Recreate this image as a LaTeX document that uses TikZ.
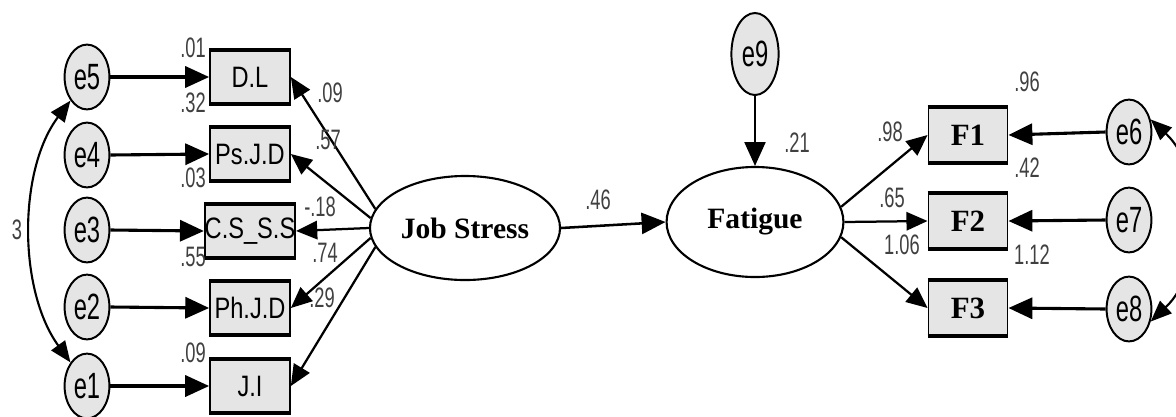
\documentclass[tikz,border=0pt]{standalone}
\usepackage{fontspec}
\setmainfont{Liberation Serif}
\newfontfamily\amosnum[FakeStretch=0.65]{Liberation Sans}
\newfontfamily\amosbox[FakeStretch=0.8]{Liberation Sans}
\usetikzlibrary{shapes.geometric,arrows.meta,positioning}

\begin{document}
\begin{tikzpicture}[
    x=0.025cm, y=-0.025cm,
    err/.style={draw=black, ellipse, line width=1.4pt, fill=black!10, inner sep=0pt, minimum width=1.12cm, minimum height=1.62cm, font=\fontsize{26}{26}\amosnum},
    obs/.style={draw=black, line width=1.2pt, fill=black!10, inner sep=0pt, minimum width=2cm, minimum height=1.3cm, font=\fontsize{21}{21}\amosbox,
        append after command={(\tikzlastnode.north west) edge[line width=2.8pt, -] (\tikzlastnode.north east)
                              (\tikzlastnode.south west) edge[line width=2.8pt, -] (\tikzlastnode.south east)}},
    lat/.style={draw=black, ellipse, line width=1.5pt, fill=white, inner sep=0pt, font=\fontsize{21}{21}\selectfont\bfseries},
    num/.style={font=\fontsize{20}{20}\amosnum, text=black!75, inner sep=0pt},
    arr/.style={-{Triangle[length=17pt, width=15pt]}, line width=2.2pt},
    lnk/.style={-{Triangle[length=15pt, width=13pt]}, line width=1.6pt},
    cov/.style={{Triangle[length=15pt, width=12pt]}-{Triangle[length=15pt, width=12pt]}, line width=1.5pt},
]
\useasboundingbox (0,0) rectangle (1176,416);

% Error terms left
\node[err] (e5) at (87,77) {e5};
\node[err] (e4) at (87,155) {e4};
\node[err] (e3) at (87,230) {e3};
\node[err] (e2) at (87,307) {e2};
\node[err] (e1) at (87,386) {e1};

% Job stress indicators
\node[obs] (dl) at (250,77) {D.L};
\node[obs] (psjd) at (250,154) {Ps.J.D};
\node[obs] (cs) at (250,231) {C.S\_S.S};
\node[obs] (phjd) at (250,308) {Ph.J.D};
\node[obs] (ji) at (250,386) {J.I};

% Latent variables
\node[lat, minimum width=4.75cm, minimum height=2.6cm] (js) at (465,228) {Job Stress};
\node[lat, minimum width=4.42cm, minimum height=2.75cm] (fat) at (755,222) {Fatigue};
\node[err, minimum width=1.18cm, minimum height=2.05cm] (e9) at (755,54) {e9};

% Fatigue indicators
\node[obs, font=\fontsize{22}{22}\selectfont\bfseries, minimum width=1.98cm, minimum height=1.35cm] (f1) at (968,135) {F1};
\node[obs, font=\fontsize{22}{22}\selectfont\bfseries, minimum width=1.98cm, minimum height=1.35cm] (f2) at (968,221) {F2};
\node[obs, font=\fontsize{22}{22}\selectfont\bfseries, minimum width=1.98cm, minimum height=1.35cm] (f3) at (968,308) {F3};

% Error terms right
\node[err] (e6) at (1129,132) {e6};
\node[err] (e7) at (1129,220) {e7};
\node[err] (e8) at (1129,309) {e8};

% Error paths
\foreach \e/\b in {e5/dl, e4/psjd, e3/cs, e2/phjd, e1/ji}
  \draw[arr] (\e.east) -- (\b.west);
\foreach \e/\b in {e6/f1, e7/f2, e8/f3}
  \draw[arr] (\e.west) -- (\b.east);
\draw[arr, line width=1.4pt] (e9.south) -- (fat.north);

% Loadings
\draw[lnk] (js.168) -- (dl.east);
\draw[lnk] (js.174) -- (psjd.east);
\draw[lnk] (js.180) -- (cs.east);
\draw[lnk] (js.186) -- (phjd.east);
\draw[lnk] (js.192) -- (ji.east);
\draw[lnk] (fat.10) -- (f1.west);
\draw[lnk] (fat.0) -- (f2.west);
\draw[lnk] (fat.-10) -- (f3.west);
\draw[arr, line width=1.8pt] (js.east) -- (fat.west);

% Covariances
\draw[cov] (e5.235) .. controls (18,170) and (18,290) .. (e1.125);
\draw[cov] (e6.30) .. controls (1205,170) and (1205,270) .. (e8.-30);

% Estimates
\node[num] at (193,48) {.01};
\node[num] at (193,103) {.32};
\node[num] at (193,178) {.03};
\node[num] at (193,257) {.55};
\node[num] at (193,353) {.09};
\node[num] at (330,93) {.09};
\node[num] at (328,140) {.57};
\node[num] at (320,207) {-.18};
\node[num] at (325,253) {.74};
\node[num] at (322,298) {.29};
\node[num] at (17,230) {3};
\node[num] at (598,200) {.46};
\node[num] at (797,143) {.21};
\node[num] at (890,132) {.98};
\node[num] at (892,198) {.65};
\node[num] at (902,245) {1.06};
\node[num] at (1027,82) {.96};
\node[num] at (1027,168) {.42};
\node[num] at (1032,255) {1.12};

\end{tikzpicture}
\end{document}
